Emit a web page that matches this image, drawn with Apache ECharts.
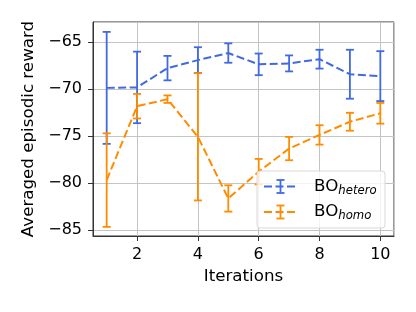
<!DOCTYPE html>
<html><head><meta charset="utf-8">
<script src="https://cdn.jsdelivr.net/npm/echarts@6/dist/echarts.min.js"></script>
<style>html,body{margin:0;padding:0;background:#fff}#c{width:416px;height:312px}</style>
</head><body><div id="c"></div>
<script>
const iterations = [1,2,3,4,5,6,7,8,9,10];
const heteroMean = [-69.9,-69.85,-67.8,-66.95,-66.2,-67.4,-67.3,-66.85,-68.45,-68.65];
const heteroErr  = [5.95,3.8,1.3,1.37,1.03,1.15,0.85,1.0,2.6,2.65];
const homoMean   = [-79.7,-71.85,-71.1,-75.1,-81.65,-78.8,-76.35,-74.9,-73.5,-72.6];
const homoErr    = [4.97,1.3,0.4,6.76,1.4,1.35,1.24,1.03,0.95,1.1];
const yTicks = [-85,-80,-75,-70,-65];
const xTicks = [2,4,6,8,10];

const BLUE = '#4169E1', ORANGE = '#FF8C00';
const FONT = 'DejaVu Sans';
const DASH = [8,3.5];

function errData(m, e){ return iterations.map((x,i)=>[x, m[i]-e[i], m[i]+e[i]]); }
function errSeries(m, e, color){
  return {
    type:'custom', data: errData(m,e), encode:{x:0,y:[1,2]}, z:3,
    renderItem:function(params, api){
      const x = api.value(0), lo = api.value(1), hi = api.value(2);
      const p1 = api.coord([x,hi]), p2 = api.coord([x,lo]);
      const w = 4, st = {stroke:color, lineWidth:1.8};
      return {type:'group', children:[
        {type:'line', shape:{x1:p1[0],y1:p1[1],x2:p2[0],y2:p2[1]}, style:st},
        {type:'line', shape:{x1:p1[0]-w,y1:p1[1],x2:p1[0]+w,y2:p1[1]}, style:st},
        {type:'line', shape:{x1:p2[0]-w,y1:p2[1],x2:p2[0]+w,y2:p2[1]}, style:st}
      ]};
    }
  };
}
function lineSeries(m, color){
  return {type:'line', data: iterations.map((x,i)=>[x,m[i]]), showSymbol:false, symbol:'none',
    lineStyle:{color:color, width:2, type:DASH}, z:3, animation:false};
}

const chart = echarts.init(document.getElementById('c'), null, {renderer:'canvas'});
const lx = 257, ly = 171;
function legendEntry(y, color, sub){
  return [
    {type:'line', shape:{x1:lx+7,y1:y,x2:lx+39,y2:y}, style:{stroke:color,lineWidth:2,lineDash:DASH}, z:101},
    {type:'line', shape:{x1:lx+23.5,y1:y-6.5,x2:lx+23.5,y2:y+6.5}, style:{stroke:color,lineWidth:1.8}, z:101},
    {type:'line', shape:{x1:lx+19.5,y1:y-6.5,x2:lx+27.5,y2:y-6.5}, style:{stroke:color,lineWidth:1.8}, z:101},
    {type:'line', shape:{x1:lx+19.5,y1:y+6.5,x2:lx+27.5,y2:y+6.5}, style:{stroke:color,lineWidth:1.8}, z:101},
    {type:'text', x:lx+57, y:y, z:101, style:{text:'{a|BO}{b|'+sub+'}', verticalAlign:'middle',
      rich:{a:{fontFamily:FONT,fontSize:16.7,fill:'#000',lineHeight:20,verticalAlign:'middle'},
            b:{fontFamily:FONT,fontSize:11.7,fontStyle:'italic',fill:'#000',lineHeight:20,padding:[8,0,0,0],verticalAlign:'middle'}}}}
  ];
}
chart.setOption({
  animation:false,
  backgroundColor:'#fff',
  grid:{left:93,right:22,top:22,bottom:76,show:true,borderColor:'#333',borderWidth:1,backgroundColor:'transparent'},
  xAxis:{type:'value', min:0.55, max:10.45,
    name:'Iterations', nameLocation:'middle', nameGap:32,
    nameTextStyle:{fontFamily:FONT,fontSize:16.7,color:'#000'},
    axisLine:{show:true,onZero:false,lineStyle:{color:'#333'}},
    axisTick:{show:true,length:5,inside:false,lineStyle:{color:'#333'}},
    axisLabel:{showMinLabel:false,showMaxLabel:false,margin:11,fontFamily:FONT,fontSize:16,color:'#000',
      formatter:v=> xTicks.includes(v)? String(v):''},
    splitLine:{show:true,lineStyle:{color:'#c4c4c4',width:1}}},
  yAxis:{type:'value', min:-85.64, max:-62.9,
    name:'Averaged episodic reward', nameLocation:'middle', nameGap:53, nameRotate:90,
    nameTextStyle:{fontFamily:FONT,fontSize:16.7,color:'#000'},
    axisLine:{show:true,onZero:false,lineStyle:{color:'#333'}},
    axisTick:{show:true,length:5,inside:false,lineStyle:{color:'#333'}},
    axisLabel:{showMinLabel:false,showMaxLabel:false,margin:11,fontFamily:FONT,fontSize:16,color:'#000',
      formatter:v=> yTicks.includes(v)? String(v).replace('-','\u2212'):''},
    splitLine:{show:true,lineStyle:{color:'#c4c4c4',width:1}}},
  series:[
    lineSeries(heteroMean, BLUE),
    errSeries(heteroMean, heteroErr, BLUE),
    lineSeries(homoMean, ORANGE),
    errSeries(homoMean, homoErr, ORANGE)
  ],
  graphic:[
    {type:'rect', shape:{x:lx,y:ly,width:128,height:57,r:3}, style:{fill:'rgba(255,255,255,0.8)',stroke:'#d8d8d8',lineWidth:1}, z:100},
    ...legendEntry(ly+15.5, BLUE, 'hetero'),
    ...legendEntry(ly+41, ORANGE, 'homo')
  ]
});
</script></body></html>
